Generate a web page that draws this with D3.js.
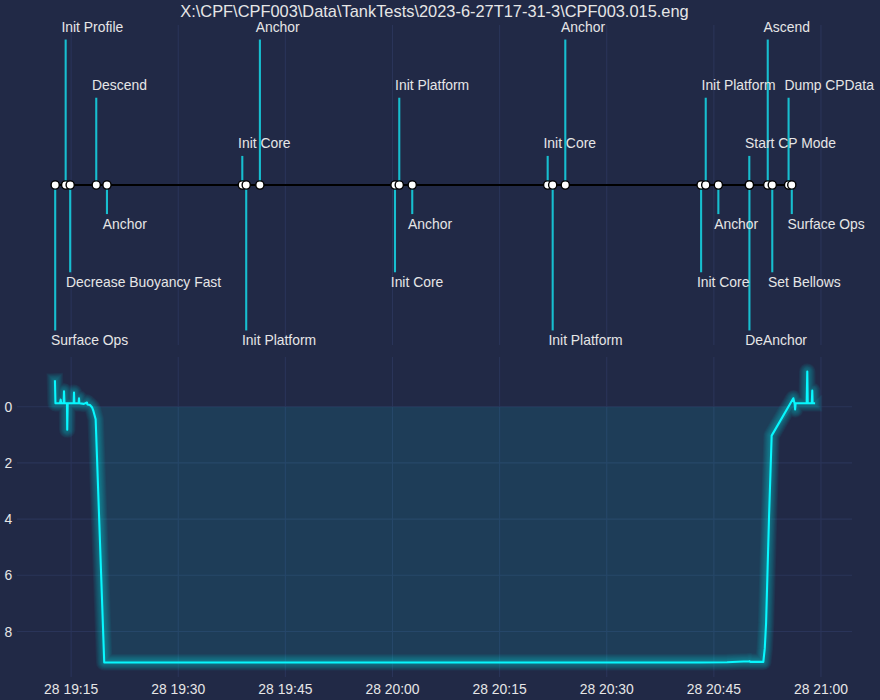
<!DOCTYPE html>
<html><head><meta charset="utf-8">
<script src="https://cdn.jsdelivr.net/npm/d3@7"></script>
<style>
body{margin:0;background:#212946;}
svg text{font-family:"Liberation Sans",Arial,sans-serif;}
</style>
</head><body>
<svg id="chart" width="880" height="700"></svg>
<script>
const DAY = "2023-06-28";
const chartTitle = "X:\\CPF\\CPF003\\Data\\TankTests\\2023-6-27T17-31-3\\CPF003.015.eng";

const eventNames = ["Surface Ops","Init Profile","Decrease Buoyancy Fast","Descend","Anchor",
  "Init Core","Init Platform","Anchor","Init Core","Init Platform","Anchor",
  "Init Core","Init Platform","Anchor","Init Core","Init Platform","Anchor",
  "Start CP Mode","DeAnchor","Ascend","Set Bellows","Dump CPData","Surface Ops"];
const eventTimes = ["19:12:46","19:14:14","19:14:52","19:18:31","19:20:01",
  "19:38:58","19:39:31","19:41:26","20:00:21","20:00:57","20:02:46",
  "20:21:44","20:22:26","20:24:12","20:43:13","20:43:52","20:45:38",
  "20:49:58","20:49:59","20:52:33","20:53:11","20:55:28","20:55:55"];
const eventLevels = [-5,5,-3,3,-1,1,-5,5,-3,3,-1,1,-5,5,-3,3,-1,1,-5,5,-3,3,-1];

const depthTimes = ["19:12:44","19:12:48","19:13:26","19:13:32","19:13:37","19:13:57","19:14:00","19:14:04",
  "19:14:25","19:14:27","19:14:31","19:15:21","19:15:24","19:15:27","19:16:03","19:16:06","19:16:09",
  "19:16:47","19:17:13","19:17:16","19:17:38","19:17:55","19:18:07","19:18:26","19:19:38",
  "19:47:02","20:15:04","20:43:04","20:46:51","20:49:56","20:50:00","20:50:05","20:51:56",
  "20:52:08","20:52:19","20:52:44","20:53:06","20:56:08","20:56:19","20:56:23","20:56:27",
  "20:58:00","20:58:05","20:58:09","20:58:43","20:58:47","20:58:50","20:59:02"];
const depthValues = [-0.90,-0.12,-0.12,-0.25,-0.12,-0.12,-0.55,-0.12,
  -0.12,0.82,-0.12,-0.12,-0.50,-0.12,-0.12,-0.30,-0.12,
  -0.10,-0.15,-0.08,-0.06,0.02,0.15,0.45,9.10,
  9.10,9.10,9.10,9.09,9.06,9.05,9.08,9.08,
  8.6,7.7,3.9,1.03,-0.30,-0.10,0.10,-0.12,
  -0.12,-1.25,-0.12,-0.12,-0.57,-0.12,-0.12];

const xTickTimes = ["19:15","19:30","19:45","20:00","20:15","20:30","20:45","21:00"];
const yTicks = [0,2,4,6,8];

const BG = "#212946", GRID = "#2A3459", TXT = "#e6e6e6", LINE = "#08F7FE", STEM = "#17becf";

const parse = s => new Date(DAY + "T" + (s.length === 5 ? s + ":00" : s));
const events = eventNames.map((n, i) => ({name: n, t: parse(eventTimes[i]), level: eventLevels[i]}));
const depth = depthTimes.map((s, i) => ({t: parse(s), v: depthValues[i]}));

const L = 17, R = 852;
const top1 = 25, bot1 = 345, top2 = 357, bot2 = 677;

function padExtent(ext) { const d = (ext[1] - ext[0]) * 0.05; return [ext[0] - d, ext[1] + d]; }

const allT = events.map(e => +e.t).concat(depth.map(d => +d.t));
const tExt = padExtent(d3.extent(allT));
const x = d3.scaleTime().domain([new Date(tExt[0]), new Date(tExt[1])]).range([L, R]);
const y1 = d3.scaleLinear().domain(padExtent(d3.extent(eventLevels))).range([bot1, top1]);
const y2 = d3.scaleLinear().domain(padExtent(d3.extent(depthValues))).range([top2, bot2]);

const svg = d3.select("#chart");
svg.append("rect").attr("width", 880).attr("height", 700).attr("fill", BG);

const xTicks = xTickTimes.map(parse);

// ---- Top panel (timeline)
const g1 = svg.append("g");
g1.selectAll("line.vg").data(xTicks).join("line")
  .attr("x1", d => x(d)).attr("x2", d => x(d)).attr("y1", top1).attr("y2", bot1)
  .attr("stroke", GRID).attr("stroke-width", 1.1);

g1.selectAll("line.stem").data(events).join("line")
  .attr("x1", d => x(d.t)).attr("x2", d => x(d.t))
  .attr("y1", y1(0)).attr("y2", d => y1(d.level))
  .attr("stroke", STEM).attr("stroke-width", 2.1);

g1.append("path")
  .attr("d", d3.line().x(d => x(d.t)).y(() => y1(0))(events))
  .attr("stroke", "#000").attr("stroke-width", 2.1).attr("fill", "none");

g1.selectAll("circle").data(events).join("circle")
  .attr("cx", d => x(d.t)).attr("cy", y1(0)).attr("r", 4.1)
  .attr("fill", "#fff").attr("stroke", "#000").attr("stroke-width", 1.4);

g1.selectAll("text.lab").data(events).join("text")
  .attr("x", d => x(d.t) - 4.2)
  .attr("y", d => d.level > 0 ? y1(d.level) - 7.8 : y1(d.level) + 15.0)
  .attr("fill", TXT).attr("font-size", 13.9)
  .text(d => d.name);

svg.append("text").attr("x", (L + R) / 2).attr("y", 16.7)
  .attr("text-anchor", "middle").attr("fill", TXT).attr("font-size", 16.4)
  .text(chartTitle);

// ---- Bottom panel (depth)
const g2 = svg.append("g");
g2.selectAll("line.vg").data(xTicks).join("line")
  .attr("x1", d => x(d)).attr("x2", d => x(d)).attr("y1", top2).attr("y2", bot2)
  .attr("stroke", GRID).attr("stroke-width", 1.1);
g2.selectAll("line.hg").data(yTicks).join("line")
  .attr("x1", L).attr("x2", R).attr("y1", d => y2(d)).attr("y2", d => y2(d))
  .attr("stroke", GRID).attr("stroke-width", 1.1);

g2.append("path")
  .attr("d", d3.area().x(d => x(d.t)).y0(y2(0)).y1(d => y2(Math.max(0, d.v)))(depth))
  .attr("fill", LINE).attr("fill-opacity", 0.1);

const lineGen = d3.line().x(d => x(d.t)).y(d => y2(d.v));
for (let n = 1; n <= 10; n++) {
  g2.append("path").attr("d", lineGen(depth))
    .attr("fill", "none").attr("stroke", LINE).attr("stroke-opacity", 0.04)
    .attr("stroke-width", 2.08 + 1.46 * n)
    .attr("stroke-linejoin", "round").attr("stroke-linecap", "square");
}
g2.append("path").attr("d", lineGen(depth))
  .attr("fill", "none").attr("stroke", LINE).attr("stroke-width", 2.08)
  .attr("stroke-linejoin", "round").attr("stroke-linecap", "square");

// axes labels
const fmt = d3.timeFormat("%d %H:%M");
g2.selectAll("text.xt").data(xTicks).join("text")
  .attr("x", d => x(d)).attr("y", bot2 + 16.6)
  .attr("text-anchor", "middle").attr("fill", TXT).attr("font-size", 13.9)
  .text(d => fmt(d));
g2.selectAll("text.yt").data(yTicks).join("text")
  .attr("x", L - 4.8).attr("y", d => y2(d) + 5)
  .attr("text-anchor", "end").attr("fill", TXT).attr("font-size", 13.9)
  .text(d => d);
</script>
</body></html>
